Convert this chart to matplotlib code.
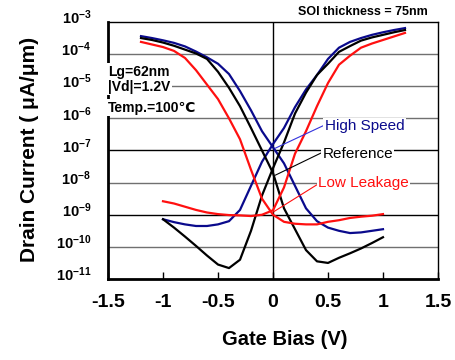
import matplotlib
matplotlib.use("Agg")
import matplotlib.pyplot as plt
import numpy as np
from matplotlib.ticker import FuncFormatter, FixedLocator
from matplotlib.transforms import ScaledTranslation

plt.rcParams['font.family'] = ['Liberation Sans', 'DejaVu Sans']
plt.rcParams['mathtext.fontset'] = 'custom'
plt.rcParams['mathtext.bf'] = 'Liberation Sans:bold'
plt.rcParams['mathtext.rm'] = 'Liberation Sans'

# gate bias (V)
vg_p = [-1.2, -1.1, -1.0, -0.9, -0.8, -0.7, -0.6, -0.5, -0.4, -0.3, -0.2, -0.1,
        0.0, 0.1, 0.2, 0.3, 0.4, 0.5, 0.6, 0.7, 0.8, 0.9, 1.0]
vg_n = [-1.0, -0.9, -0.8, -0.7, -0.6, -0.5, -0.4, -0.3, -0.2, -0.1, 0.0,
        0.1, 0.2, 0.3, 0.4, 0.5, 0.6, 0.7, 0.8, 0.9, 1.0, 1.1, 1.2]

# log10 of drain current (uA/um)
ref_p = [-3.5, -3.56, -3.64, -3.74, -3.86, -3.98, -4.15, -4.55, -5.05, -5.62, -6.3, -7.0,
         -7.7, -8.8, -9.45, -10.1, -10.45, -10.5, -10.34, -10.2, -10.05, -9.88, -9.7]
ref_n = [-9.14, -9.4, -9.68, -9.97, -10.27, -10.55, -10.66, -10.4, -9.5, -8.4, -7.55,
         -6.75, -5.85, -5.2, -4.65, -4.3, -3.93, -3.75, -3.58, -3.48, -3.4, -3.32, -3.25]
hs_p = [-3.44, -3.5, -3.57, -3.65, -3.76, -3.92, -4.1, -4.3, -4.62, -5.15, -5.75, -6.4,
        -6.9, -7.4, -8.1, -8.8, -9.2, -9.4, -9.5, -9.57, -9.55, -9.5, -9.45]
hs_n = [-9.14, -9.23, -9.3, -9.35, -9.35, -9.3, -9.2, -8.85, -8.1, -7.35, -6.8,
        -6.3, -5.65, -5.1, -4.65, -4.15, -3.8, -3.62, -3.5, -3.4, -3.32, -3.25, -3.19]
ll_p = [-3.62, -3.7, -3.78, -3.9, -4.12, -4.5, -4.95, -5.4, -6.0, -6.65, -7.6, -8.5,
        -9.0, -9.22, -9.28, -9.3, -9.3, -9.22, -9.17, -9.1, -9.06, -9.03, -8.98]
ll_n = [-8.58, -8.65, -8.75, -8.85, -8.93, -8.98, -9.01, -9.02, -9.04, -9.0, -8.86,
        -8.15, -7.1, -6.4, -5.62, -4.9, -4.33, -4.05, -3.8, -3.67, -3.56, -3.45, -3.34]

blue = '#0a0a8c'
red = '#ff1010'

fig = plt.figure(figsize=(4.55, 3.6), dpi=100)
ax = fig.add_axes([0.2374, 0.225, 0.7252, 0.7139])

for yy in range(-10, -3):
    c = 'black' if yy in (-9, -7) else '#707070'
    ax.axhline(10.0 ** yy, color=c, lw=1.0, zorder=1)
ax.axvline(0, color='black', lw=1.0, zorder=1)

ax.semilogy(vg_p, 10.0 ** np.array(hs_p), color=blue, lw=1.6, zorder=3)
ax.semilogy(vg_n, 10.0 ** np.array(hs_n), color=blue, lw=1.6, zorder=3)
ax.semilogy(vg_p, 10.0 ** np.array(ref_p), color='black', lw=1.6, zorder=3)
ax.semilogy(vg_n, 10.0 ** np.array(ref_n), color='black', lw=1.6, zorder=3)
ax.semilogy(vg_p, 10.0 ** np.array(ll_p), color=red, lw=1.6, zorder=3)
ax.semilogy(vg_n, 10.0 ** np.array(ll_n), color=red, lw=1.6, zorder=3)

ax.set_xlim(-1.5, 1.5)
ax.set_ylim(1e-11, 1e-3)

ax.xaxis.set_major_locator(FixedLocator([-1.5, -1, -0.5, 0, 0.5, 1, 1.5]))
ax.xaxis.set_major_formatter(FuncFormatter(lambda v, p: '%g' % v))
ax.yaxis.set_major_locator(FixedLocator([10.0 ** k for k in range(-11, -2)]))
ax.yaxis.set_minor_locator(FixedLocator([]))
ax.yaxis.set_major_formatter(FuncFormatter(
    lambda v, p: r'$\mathbf{10^{%d}}$' % int(round(np.log10(v)))))

ax.tick_params(axis='x', direction='in', length=5, width=1, pad=11, labelsize=14)
ax.tick_params(axis='y', length=0, pad=12, labelsize=10.5)
for lab in ax.get_xticklabels():
    lab.set_fontweight('bold')
for lab in ax.get_yticklabels():
    lab.set_transform(lab.get_transform() + ScaledTranslation(0, 4 / 72, fig.dpi_scale_trans))

ax.spines['left'].set_linewidth(2)
ax.spines['bottom'].set_linewidth(2)
ax.spines['top'].set_linewidth(1)
ax.spines['right'].set_linewidth(1)

ax.set_xlabel('Gate Bias (V)', fontsize=14.5, fontweight='bold')
ax.set_ylabel('Drain Current ( \u03bcA/\u03bcm)', fontsize=15, fontweight='bold')
ax.xaxis.set_label_coords(0.536, -0.2)
ax.yaxis.set_label_coords(-0.21, 0.506)

box = dict(facecolor='white', edgecolor='none', pad=1)
ax.text(-1.5, 10 ** -4.55, 'Lg=62nm', fontsize=10, fontweight='bold', va='center', ha='left', bbox=box, zorder=4)
ax.text(-1.5, 10 ** -5.02, '|Vd|=1.2V', fontsize=10, fontweight='bold', va='center', ha='left', bbox=box, zorder=4)
ax.text(-1.5, 10 ** -5.67, 'Temp.=100\u2103', fontsize=10, fontweight='bold', va='center', ha='left', bbox=box, zorder=4)

ax.annotate('High Speed', xy=(0.02, 10 ** -6.93), xytext=(0.47, 10 ** -6.25),
            color=blue, fontsize=11, va='center', ha='left',
            bbox=dict(facecolor='white', edgecolor='none', pad=1),
            arrowprops=dict(arrowstyle='-', color='#3333dd', lw=0.8, shrinkA=0, shrinkB=0,
                            relpos=(0, 0.6)), zorder=4)
ax.annotate('Reference', xy=(0.02, 10 ** -7.77), xytext=(0.45, 10 ** -7.1),
            color='black', fontsize=11, va='center', ha='left',
            bbox=dict(facecolor='white', edgecolor='none', pad=1),
            arrowprops=dict(arrowstyle='-', color='black', lw=0.8, shrinkA=0, shrinkB=0,
                            relpos=(0, 0.6)), zorder=4)
ax.annotate('Low Leakage', xy=(0.0, 10 ** -8.92), xytext=(0.41, 10 ** -8.0),
            color=red, fontsize=11, va='center', ha='left',
            bbox=dict(facecolor='white', edgecolor='none', pad=1),
            arrowprops=dict(arrowstyle='-', color=red, lw=0.8, shrinkA=0, shrinkB=0,
                            relpos=(0, 0.4)), zorder=4)

fig.text(0.94, 0.968, 'SOI thickness = 75nm', fontsize=9, fontweight='bold', ha='right', va='center')

fig.savefig('out.png', dpi=100)
